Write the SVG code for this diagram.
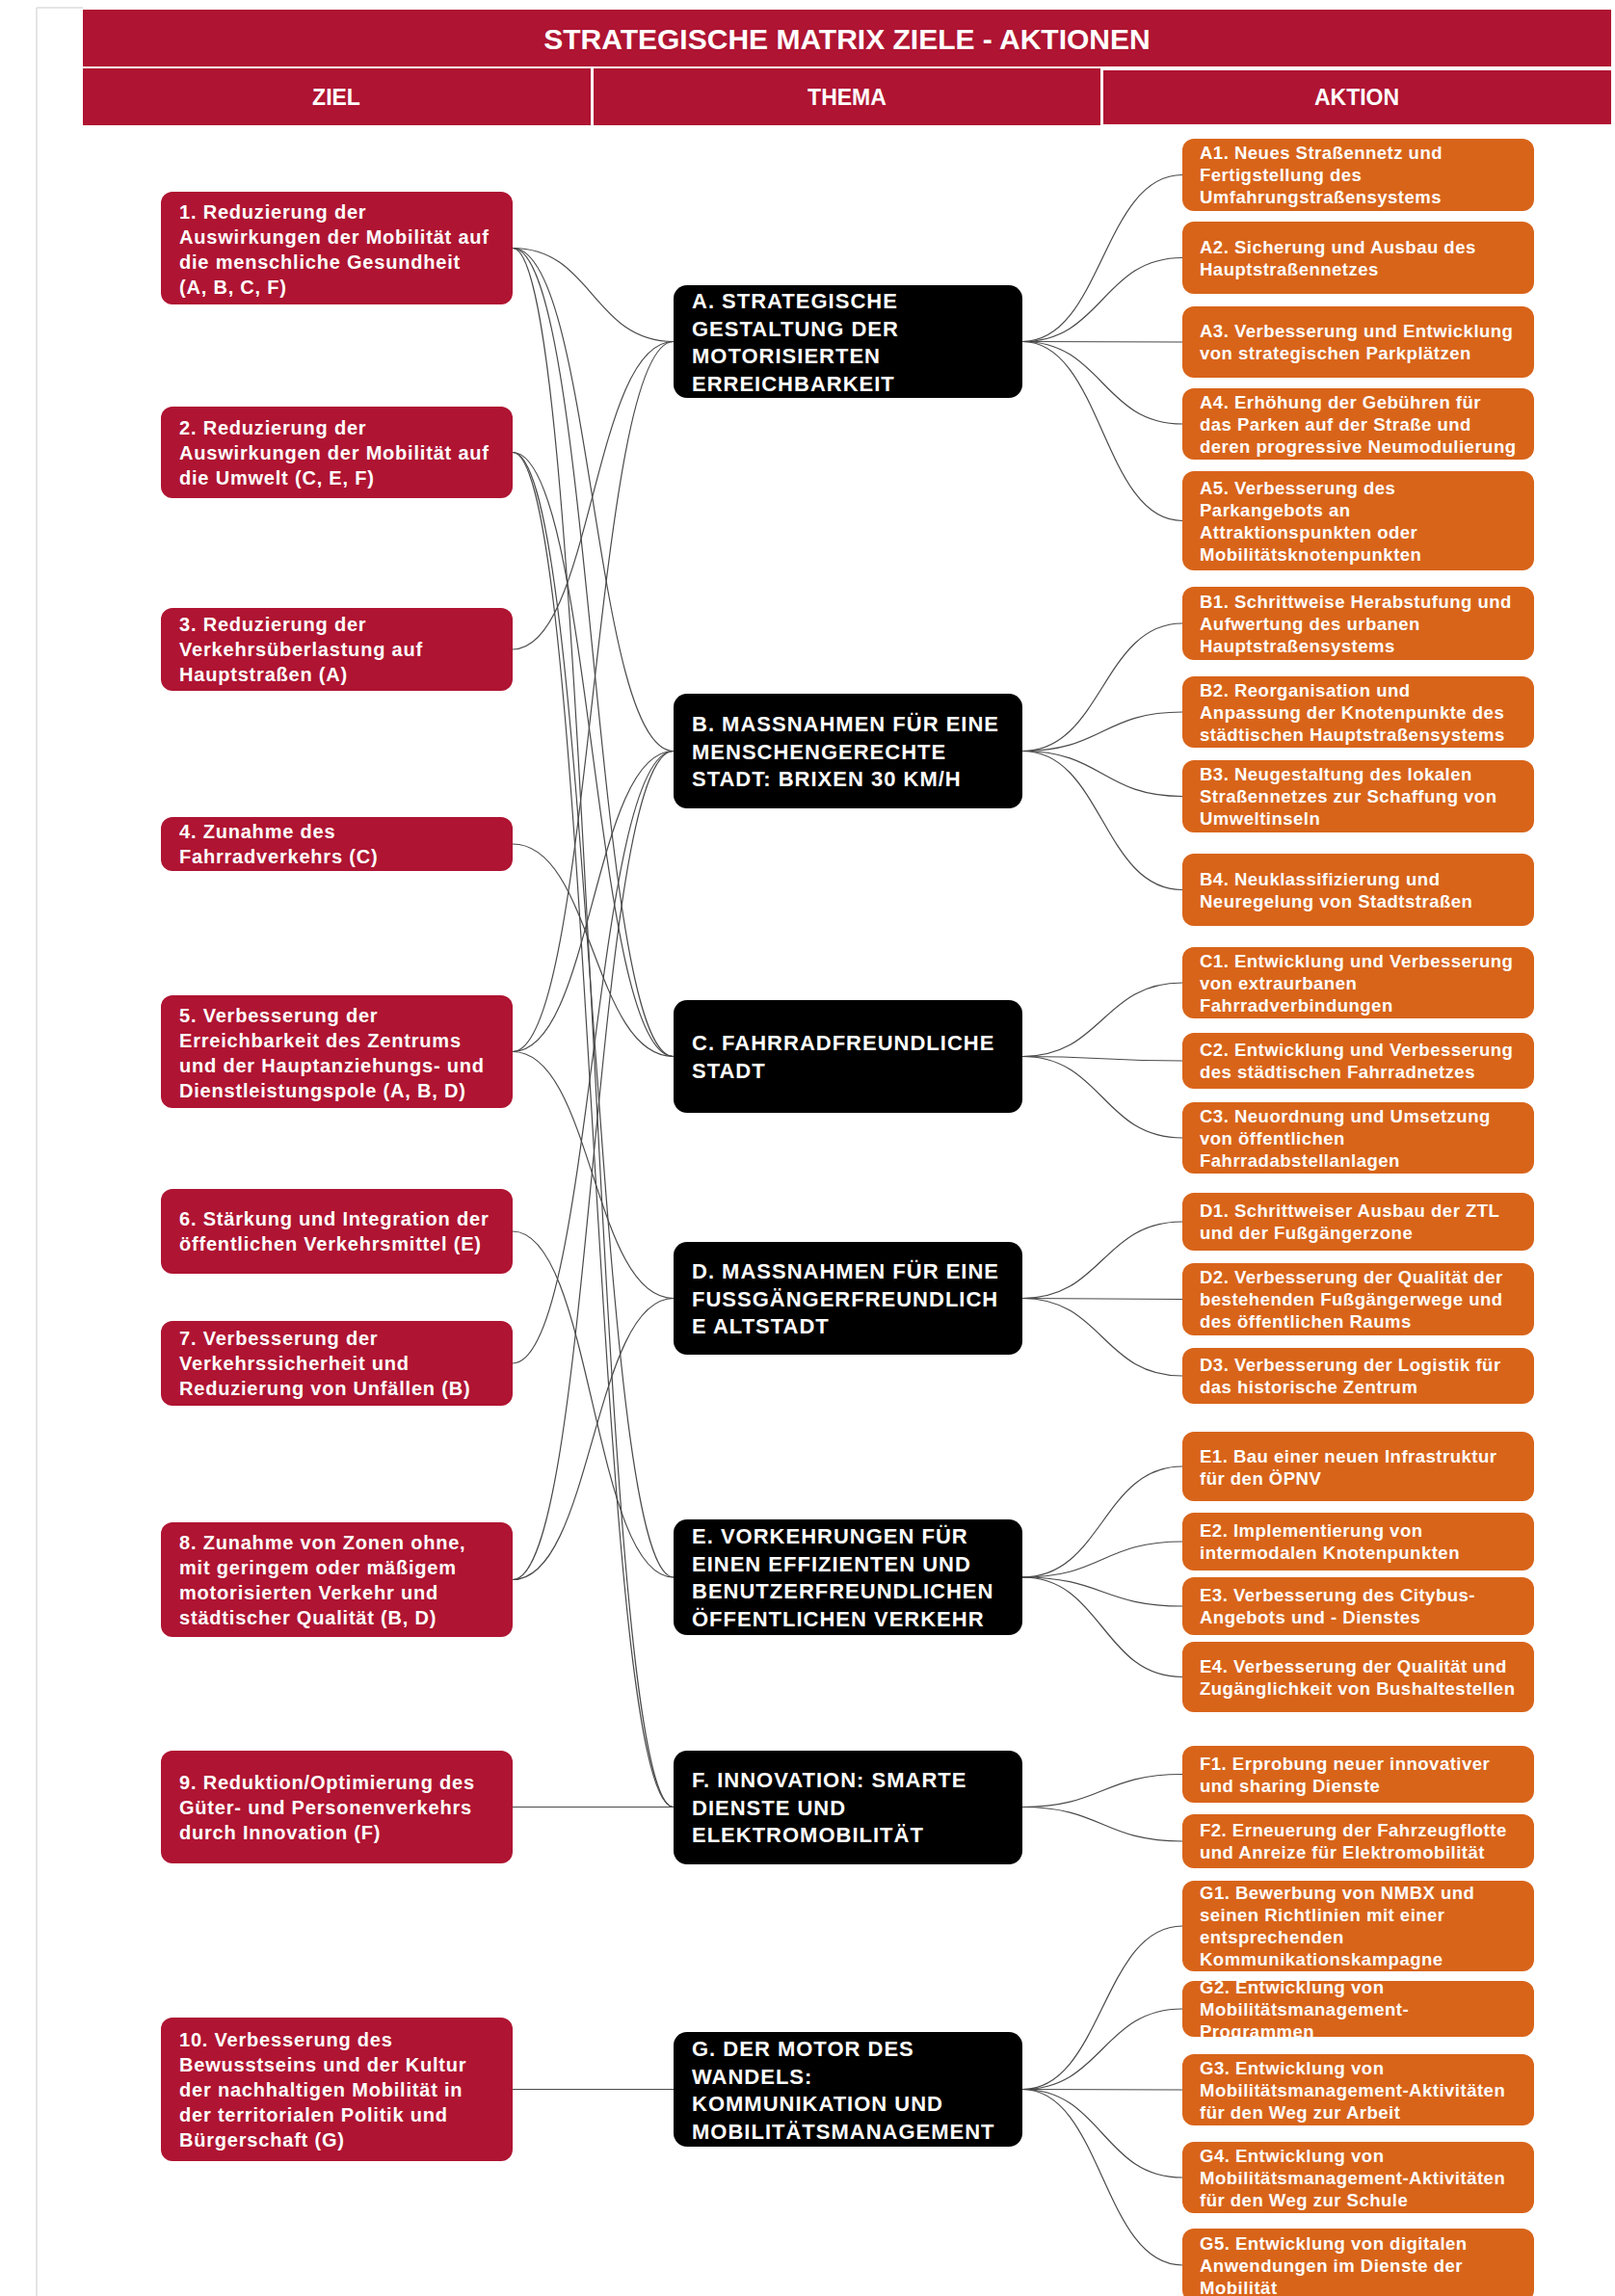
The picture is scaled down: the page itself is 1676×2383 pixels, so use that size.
<svg xmlns="http://www.w3.org/2000/svg" width="1676" height="2383" viewBox="0 0 1676 2383">
<style>
  text { font-family: "Liberation Sans", Arial, sans-serif; font-weight: bold; fill: #ffffff; }
  .hdr { fill: #AF1432; }
  .title { font-size: 30px; text-anchor: middle; }
  .col { font-size: 23px; text-anchor: middle; }
  .ziel rect { fill: #AF1432; }
  .ziel text { font-size: 20px; letter-spacing: 0.8px; }
  .thema rect { fill: #000000; }
  .thema text { font-size: 22px; letter-spacing: 1px; }
  .aktion rect { fill: #D8641A; }
  .aktion text { font-size: 18.5px; letter-spacing: 0.5px; }
  #connectors path { fill: none; stroke: #4a4a4a; stroke-width: 1.2; }
</style>
<rect x="0" y="0" width="1676" height="2383" fill="#ffffff"/>
<line x1="38" y1="8" x2="38" y2="2383" stroke="#dcdcdc" stroke-width="1.5"/>
<line x1="38" y1="8" x2="86" y2="8" stroke="#dcdcdc" stroke-width="1.5"/>

<g id="header">
  <rect class="hdr" x="86" y="10" width="1586" height="59"/>
  <text class="title" x="879" y="51">STRATEGISCHE MATRIX ZIELE - AKTIONEN</text>
  <rect class="hdr" x="86" y="71" width="527" height="59"/>
  <rect class="hdr" x="616" y="71" width="526" height="59"/>
  <rect class="hdr" x="1145" y="73" width="527" height="56"/>
  <text class="col" x="349" y="108.5">ZIEL</text>
  <text class="col" x="879" y="108.5">THEMA</text>
  <text class="col" x="1408" y="108.5">AKTION</text>
</g>

<g id="connectors">
  <path d="M532,257.5 C615,257.5 615,354.5 699,354.5"/>
  <path d="M532,257.5 C615,257.5 615,779.5 699,779.5"/>
  <path d="M532,257.5 C615,257.5 615,1096.5 699,1096.5"/>
  <path d="M532,257.5 C615,257.5 615,1875.5 699,1875.5"/>
  <path d="M532,469.5 C615,469.5 615,1096.5 699,1096.5"/>
  <path d="M532,469.5 C615,469.5 615,1637 699,1637"/>
  <path d="M532,469.5 C615,469.5 615,1875.5 699,1875.5"/>
  <path d="M532,674 C615,674 615,354.5 699,354.5"/>
  <path d="M532,876 C615,876 615,1096.5 699,1096.5"/>
  <path d="M532,1091.5 C615,1091.5 615,354.5 699,354.5"/>
  <path d="M532,1091.5 C615,1091.5 615,779.5 699,779.5"/>
  <path d="M532,1091.5 C615,1091.5 615,1347.5 699,1347.5"/>
  <path d="M532,1278 C615,1278 615,1637 699,1637"/>
  <path d="M532,1415 C615,1415 615,779.5 699,779.5"/>
  <path d="M532,1639.5 C615,1639.5 615,779.5 699,779.5"/>
  <path d="M532,1639.5 C615,1639.5 615,1347.5 699,1347.5"/>
  <path d="M532,1875.5 L699,1875.5"/>
  <path d="M532,2168.5 L699,2168.5"/>

  <path d="M1061,354.5 C1144,354.5 1144,181.5 1227,181.5"/>
  <path d="M1061,354.5 C1144,354.5 1144,267.5 1227,267.5"/>
  <path d="M1061,354.5 C1144,354.5 1144,355 1227,355"/>
  <path d="M1061,354.5 C1144,354.5 1144,440 1227,440"/>
  <path d="M1061,354.5 C1144,354.5 1144,540.5 1227,540.5"/>

  <path d="M1061,779.5 C1144,779.5 1144,647 1227,647"/>
  <path d="M1061,779.5 C1144,779.5 1144,739 1227,739"/>
  <path d="M1061,779.5 C1144,779.5 1144,826.5 1227,826.5"/>
  <path d="M1061,779.5 C1144,779.5 1144,923.5 1227,923.5"/>

  <path d="M1061,1096.5 C1144,1096.5 1144,1020 1227,1020"/>
  <path d="M1061,1096.5 C1144,1096.5 1144,1101 1227,1101"/>
  <path d="M1061,1096.5 C1144,1096.5 1144,1181 1227,1181"/>

  <path d="M1061,1347.5 C1144,1347.5 1144,1268 1227,1268"/>
  <path d="M1061,1347.5 C1144,1347.5 1144,1348.5 1227,1348.5"/>
  <path d="M1061,1347.5 C1144,1347.5 1144,1428 1227,1428"/>

  <path d="M1061,1637 C1144,1637 1144,1522 1227,1522"/>
  <path d="M1061,1637 C1144,1637 1144,1600 1227,1600"/>
  <path d="M1061,1637 C1144,1637 1144,1667 1227,1667"/>
  <path d="M1061,1637 C1144,1637 1144,1740.5 1227,1740.5"/>

  <path d="M1061,1875.5 C1144,1875.5 1144,1841.5 1227,1841.5"/>
  <path d="M1061,1875.5 C1144,1875.5 1144,1911 1227,1911"/>

  <path d="M1061,2168.5 C1144,2168.5 1144,1999 1227,1999"/>
  <path d="M1061,2168.5 C1144,2168.5 1144,2085 1227,2085"/>
  <path d="M1061,2168.5 C1144,2168.5 1144,2169 1227,2169"/>
  <path d="M1061,2168.5 C1144,2168.5 1144,2260 1227,2260"/>
  <path d="M1061,2168.5 C1144,2168.5 1144,2351 1227,2351"/>
</g>

<!-- ZIELE -->
<g id="ziel1" class="ziel"><rect x="167" y="199" width="365" height="117" rx="12"/>
  <text x="186" y="227">1. Reduzierung der</text><text x="186" y="253">Auswirkungen der Mobilität auf</text><text x="186" y="279">die menschliche Gesundheit</text><text x="186" y="305">(A, B, C, F)</text></g>
<g id="ziel2" class="ziel"><rect x="167" y="422" width="365" height="95" rx="12"/>
  <text x="186" y="450.5">2. Reduzierung der</text><text x="186" y="476.5">Auswirkungen der Mobilität auf</text><text x="186" y="502.5">die Umwelt (C, E, F)</text></g>
<g id="ziel3" class="ziel"><rect x="167" y="631" width="365" height="86" rx="12"/>
  <text x="186" y="655">3. Reduzierung der</text><text x="186" y="681">Verkehrsüberlastung auf</text><text x="186" y="707">Hauptstraßen (A)</text></g>
<g id="ziel4" class="ziel"><rect x="167" y="848" width="365" height="56" rx="12"/>
  <text x="186" y="870">4. Zunahme des</text><text x="186" y="896">Fahrradverkehrs (C)</text></g>
<g id="ziel5" class="ziel"><rect x="167" y="1033" width="365" height="117" rx="12"/>
  <text x="186" y="1061">5. Verbesserung der</text><text x="186" y="1087">Erreichbarkeit des Zentrums</text><text x="186" y="1113">und der Hauptanziehungs- und</text><text x="186" y="1139">Dienstleistungspole (A, B, D)</text></g>
<g id="ziel6" class="ziel"><rect x="167" y="1234" width="365" height="88" rx="12"/>
  <text x="186" y="1272">6. Stärkung und Integration der</text><text x="186" y="1298">öffentlichen Verkehrsmittel (E)</text></g>
<g id="ziel7" class="ziel"><rect x="167" y="1371" width="365" height="88" rx="12"/>
  <text x="186" y="1396">7. Verbesserung der</text><text x="186" y="1422">Verkehrssicherheit und</text><text x="186" y="1448">Reduzierung von Unfällen (B)</text></g>
<g id="ziel8" class="ziel"><rect x="167" y="1580" width="365" height="119" rx="12"/>
  <text x="186" y="1608">8. Zunahme von Zonen ohne,</text><text x="186" y="1634">mit geringem oder mäßigem</text><text x="186" y="1660">motorisierten Verkehr und</text><text x="186" y="1686">städtischer Qualität (B, D)</text></g>
<g id="ziel9" class="ziel"><rect x="167" y="1817" width="365" height="117" rx="12"/>
  <text x="186" y="1857">9. Reduktion/Optimierung des</text><text x="186" y="1883">Güter- und Personenverkehrs</text><text x="186" y="1909">durch Innovation (F)</text></g>
<g id="ziel10" class="ziel"><rect x="167" y="2094" width="365" height="149" rx="12"/>
  <text x="186" y="2124">10. Verbesserung des</text><text x="186" y="2150">Bewusstseins und der Kultur</text><text x="186" y="2176">der nachhaltigen Mobilität in</text><text x="186" y="2202">der territorialen Politik und</text><text x="186" y="2228">Bürgerschaft (G)</text></g>

<!-- THEMEN -->
<g id="themaA" class="thema"><rect x="699" y="296" width="362" height="117" rx="14"/>
  <text x="718" y="320">A. STRATEGISCHE</text><text x="718" y="348.5">GESTALTUNG DER</text><text x="718" y="377">MOTORISIERTEN</text><text x="718" y="405.5">ERREICHBARKEIT</text></g>
<g id="themaB" class="thema"><rect x="699" y="720" width="362" height="119" rx="14"/>
  <text x="718" y="759">B. MASSNAHMEN FÜR EINE</text><text x="718" y="787.5">MENSCHENGERECHTE</text><text x="718" y="816">STADT: BRIXEN 30 KM/H</text></g>
<g id="themaC" class="thema"><rect x="699" y="1038" width="362" height="117" rx="14"/>
  <text x="718" y="1090">C. FAHRRADFREUNDLICHE</text><text x="718" y="1118.5">STADT</text></g>
<g id="themaD" class="thema"><rect x="699" y="1289" width="362" height="117" rx="14"/>
  <text x="718" y="1327">D. MASSNAHMEN FÜR EINE</text><text x="718" y="1355.5">FUSSGÄNGERFREUNDLICH</text><text x="718" y="1384">E ALTSTADT</text></g>
<g id="themaE" class="thema"><rect x="699" y="1577" width="362" height="120" rx="14"/>
  <text x="718" y="1602">E. VORKEHRUNGEN FÜR</text><text x="718" y="1630.5">EINEN EFFIZIENTEN UND</text><text x="718" y="1659">BENUTZERFREUNDLICHEN</text><text x="718" y="1687.5">ÖFFENTLICHEN VERKEHR</text></g>
<g id="themaF" class="thema"><rect x="699" y="1817" width="362" height="118" rx="14"/>
  <text x="718" y="1855">F. INNOVATION: SMARTE</text><text x="718" y="1883.5">DIENSTE UND</text><text x="718" y="1912">ELEKTROMOBILITÄT</text></g>
<g id="themaG" class="thema"><rect x="699" y="2109" width="362" height="119" rx="14"/>
  <text x="718" y="2134">G. DER MOTOR DES</text><text x="718" y="2162.5">WANDELS:</text><text x="718" y="2191">KOMMUNIKATION UND</text><text x="718" y="2219.5">MOBILITÄTSMANAGEMENT</text></g>

<!-- AKTIONEN -->
<g id="A1" class="aktion"><rect x="1227" y="144" width="365" height="75" rx="12"/>
  <text x="1245" y="165">A1. Neues Straßennetz und</text><text x="1245" y="188">Fertigstellung des</text><text x="1245" y="211">Umfahrungstraßensystems</text></g>
<g id="A2" class="aktion"><rect x="1227" y="230" width="365" height="75" rx="12"/>
  <text x="1245" y="262.5">A2. Sicherung und Ausbau des</text><text x="1245" y="285.5">Hauptstraßennetzes</text></g>
<g id="A3" class="aktion"><rect x="1227" y="318" width="365" height="74" rx="12"/>
  <text x="1245" y="350">A3. Verbesserung und Entwicklung</text><text x="1245" y="373">von strategischen Parkplätzen</text></g>
<g id="A4" class="aktion"><rect x="1227" y="403" width="365" height="74" rx="12"/>
  <text x="1245" y="423.5">A4. Erhöhung der Gebühren für</text><text x="1245" y="446.5">das Parken auf der Straße und</text><text x="1245" y="469.5">deren progressive Neumodulierung</text></g>
<g id="A5" class="aktion"><rect x="1227" y="489" width="365" height="103" rx="12"/>
  <text x="1245" y="512.5">A5. Verbesserung des</text><text x="1245" y="535.5">Parkangebots an</text><text x="1245" y="558.5">Attraktionspunkten oder</text><text x="1245" y="581.5">Mobilitätsknotenpunkten</text></g>
<g id="B1" class="aktion"><rect x="1227" y="609" width="365" height="76" rx="12"/>
  <text x="1245" y="630.5">B1. Schrittweise Herabstufung und</text><text x="1245" y="653.5">Aufwertung des urbanen</text><text x="1245" y="676.5">Hauptstraßensystems</text></g>
<g id="B2" class="aktion"><rect x="1227" y="702" width="365" height="74" rx="12"/>
  <text x="1245" y="722.5">B2. Reorganisation und</text><text x="1245" y="745.5">Anpassung der Knotenpunkte des</text><text x="1245" y="768.5">städtischen Hauptstraßensystems</text></g>
<g id="B3" class="aktion"><rect x="1227" y="789" width="365" height="75" rx="12"/>
  <text x="1245" y="810">B3. Neugestaltung des lokalen</text><text x="1245" y="833">Straßennetzes zur Schaffung von</text><text x="1245" y="856">Umweltinseln</text></g>
<g id="B4" class="aktion"><rect x="1227" y="886" width="365" height="75" rx="12"/>
  <text x="1245" y="918.5">B4. Neuklassifizierung und</text><text x="1245" y="941.5">Neuregelung von Stadtstraßen</text></g>
<g id="C1" class="aktion"><rect x="1227" y="983" width="365" height="74" rx="12"/>
  <text x="1245" y="1003.5">C1. Entwicklung und Verbesserung</text><text x="1245" y="1026.5">von extraurbanen</text><text x="1245" y="1049.5">Fahrradverbindungen</text></g>
<g id="C2" class="aktion"><rect x="1227" y="1072" width="365" height="58" rx="12"/>
  <text x="1245" y="1096">C2. Entwicklung und Verbesserung</text><text x="1245" y="1119">des städtischen Fahrradnetzes</text></g>
<g id="C3" class="aktion"><rect x="1227" y="1144" width="365" height="74" rx="12"/>
  <text x="1245" y="1164.5">C3. Neuordnung und Umsetzung</text><text x="1245" y="1187.5">von öffentlichen</text><text x="1245" y="1210.5">Fahrradabstellanlagen</text></g>
<g id="D1" class="aktion"><rect x="1227" y="1238" width="365" height="60" rx="12"/>
  <text x="1245" y="1263">D1. Schrittweiser Ausbau der ZTL</text><text x="1245" y="1286">und der Fußgängerzone</text></g>
<g id="D2" class="aktion"><rect x="1227" y="1311" width="365" height="75" rx="12"/>
  <text x="1245" y="1332">D2. Verbesserung der Qualität der</text><text x="1245" y="1355">bestehenden Fußgängerwege und</text><text x="1245" y="1378">des öffentlichen Raums</text></g>
<g id="D3" class="aktion"><rect x="1227" y="1399" width="365" height="58" rx="12"/>
  <text x="1245" y="1423">D3. Verbesserung der Logistik für</text><text x="1245" y="1446">das historische Zentrum</text></g>
<g id="E1" class="aktion"><rect x="1227" y="1486" width="365" height="72" rx="12"/>
  <text x="1245" y="1518">E1. Bau einer neuen Infrastruktur</text><text x="1245" y="1541">für den ÖPNV</text></g>
<g id="E2" class="aktion"><rect x="1227" y="1570" width="365" height="60" rx="12"/>
  <text x="1245" y="1595">E2. Implementierung von</text><text x="1245" y="1618">intermodalen Knotenpunkten</text></g>
<g id="E3" class="aktion"><rect x="1227" y="1637" width="365" height="60" rx="12"/>
  <text x="1245" y="1662">E3. Verbesserung des Citybus-</text><text x="1245" y="1685">Angebots und - Dienstes</text></g>
<g id="E4" class="aktion"><rect x="1227" y="1704" width="365" height="73" rx="12"/>
  <text x="1245" y="1735.5">E4. Verbesserung der Qualität und</text><text x="1245" y="1758.5">Zugänglichkeit von Bushaltestellen</text></g>
<g id="F1" class="aktion"><rect x="1227" y="1812" width="365" height="59" rx="12"/>
  <text x="1245" y="1836.5">F1. Erprobung neuer innovativer</text><text x="1245" y="1859.5">und sharing Dienste</text></g>
<g id="F2" class="aktion"><rect x="1227" y="1883" width="365" height="56" rx="12"/>
  <text x="1245" y="1906">F2. Erneuerung der Fahrzeugflotte</text><text x="1245" y="1929">und Anreize für Elektromobilität</text></g>
<g id="G1" class="aktion"><rect x="1227" y="1952" width="365" height="94" rx="12"/>
  <text x="1245" y="1971">G1. Bewerbung von NMBX und</text><text x="1245" y="1994">seinen Richtlinien mit einer</text><text x="1245" y="2017">entsprechenden</text><text x="1245" y="2040">Kommunikationskampagne</text></g>
<g id="G2" class="aktion"><rect x="1227" y="2056" width="365" height="58" rx="12"/>
  <text x="1245" y="2068.5">G2. Entwicklung von</text><text x="1245" y="2091.5">Mobilitätsmanagement-</text><text x="1245" y="2114.5">Programmen</text></g>
<g id="G3" class="aktion"><rect x="1227" y="2132" width="365" height="74" rx="12"/>
  <text x="1245" y="2152.5">G3. Entwicklung von</text><text x="1245" y="2175.5">Mobilitätsmanagement-Aktivitäten</text><text x="1245" y="2198.5">für den Weg zur Arbeit</text></g>
<g id="G4" class="aktion"><rect x="1227" y="2223" width="365" height="74" rx="12"/>
  <text x="1245" y="2243.5">G4. Entwicklung von</text><text x="1245" y="2266.5">Mobilitätsmanagement-Aktivitäten</text><text x="1245" y="2289.5">für den Weg zur Schule</text></g>
<g id="G5" class="aktion"><rect x="1227" y="2313" width="365" height="76" rx="12"/>
  <text x="1245" y="2334.5">G5. Entwicklung von digitalen</text><text x="1245" y="2357.5">Anwendungen im Dienste der</text><text x="1245" y="2380.5">Mobilität</text></g>
</svg>
